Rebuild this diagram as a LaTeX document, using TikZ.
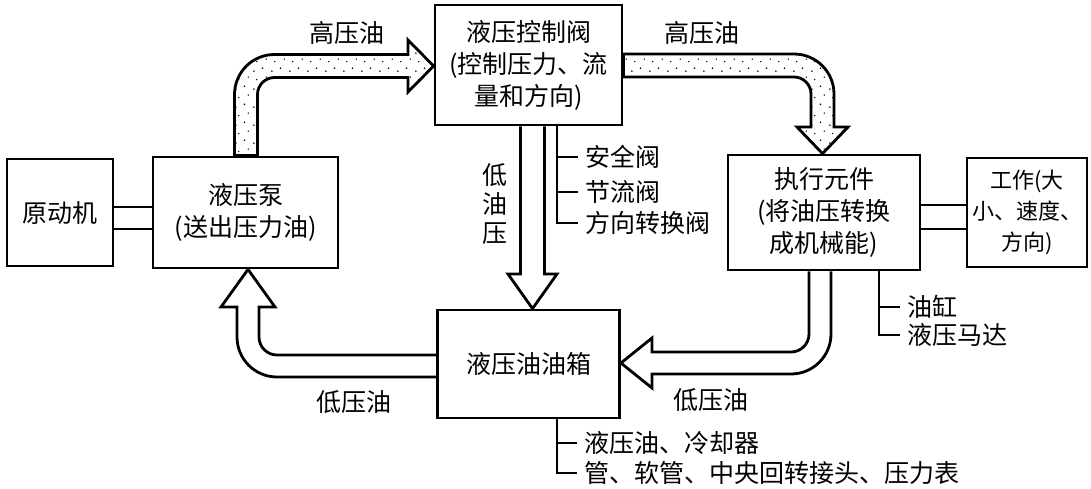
\documentclass[tikz,border=0pt]{standalone}
\usepackage{fontspec}
\setmainfont{Noto Sans CJK SC}
\usepackage{tikz}
\usetikzlibrary{calc,positioning,patterns.meta}

\tikzdeclarepattern{
  name=stipple,
  type=uncolored,
  bounding box={(0pt,0pt) and (9pt,9pt)},
  tile size={(9pt,9pt)},
  code={
    \fill (1pt,1.5pt) circle (0.45pt);
    \fill (5.5pt,3pt) circle (0.45pt);
    \fill (2.5pt,6.5pt) circle (0.4pt);
    \fill (7.5pt,7.8pt) circle (0.4pt);
  }
}

\begin{document}
\begin{tikzpicture}[x=0.5pt, y=-0.5pt, line width=1.4pt,
    font=\fontsize{12.5}{16}\selectfont,
    box/.style={rectangle, draw, align=center, inner sep=0pt},
    pipe/.style={draw, line join=miter},
    hpipe/.style={pipe, pattern=stipple},
    note/.style={anchor=west, inner sep=3pt}]
    \useasboundingbox (0,0) rectangle (1091,488);

    \node (pump) [box, minimum width=92.5pt, minimum height=55.5pt] at (245.5,212.5) {液压泵\\(送出压力油)};
    \node (mover) [box, minimum width=53pt, minimum height=53.5pt, left of=pump, node distance=92.75pt] {原动机};
    \node (valve) [box, minimum width=93.5pt, minimum height=60pt] at (528.5,65) {液压控制阀\\(控制压力、流\\量和方向)};
    \node (tank) [box, minimum width=91pt, minimum height=54pt, below of=valve, node distance=149.5pt] {液压油油箱};
    \node (actuator) [box, minimum width=96pt, minimum height=57.5pt] at (824,212.5) {执行元件\\(将油压转换\\成机械能)};
    \node (work) [box, minimum width=60pt, minimum height=54.5pt, right of=actuator, node distance=101.5pt,
        font=\fontsize{11}{15.5}\selectfont] {工作(大\\小、速度、\\方向)};

    % shafts
    \draw (mover.east |- 0,207) -- (pump.west |- 0,207);
    \draw (mover.east |- 0,229) -- (pump.west |- 0,229);
    \draw (actuator.east |- 0,205) -- (work.west |- 0,205);
    \draw (actuator.east |- 0,229) -- (work.west |- 0,229);

    % high pressure oil
    \draw[hpipe] (pump.north -| 234.5,0) -- (234.5,94.5) .. controls (234.5,72.4) and (252.4,54.5) .. (274.5,54.5)
        -- (408,54.5) -- (408,40) -- (valve.west |- 0,66) -- (408,92) -- (408,77.5) -- (274.5,77.5)
        .. controls (265.1,77.5) and (257.5,85.1) .. (257.5,94.5) -- (pump.north -| 257.5,0) -- cycle;
    \draw[hpipe] (valve.east |- 0,54) -- (794,54) .. controls (816.1,54) and (834,71.9) .. (834,94)
        -- (834,127) -- (848,127) -- (actuator.north -| 822.5,0) -- (797,127) -- (811,127) -- (811,94)
        .. controls (811,84.6) and (803.4,77) .. (794,77) -- (valve.east |- 0,77) -- cycle;

    % low pressure oil
    \draw[pipe] (valve.south -| 520.5,0) -- (520.5,274) -- (508,274) -- (tank.north -| 532.5,0)
        -- (557,274) -- (544.5,274) -- (valve.south -| 544.5,0);
    \draw[pipe] (actuator.south -| 809,0) -- (809,334) .. controls (809,343.9) and (800.9,352) .. (791,352)
        -- (652,352) -- (652,338) -- (tank.east |- 0,363) -- (652,388) -- (652,374) -- (791,374)
        .. controls (813.1,374) and (831,356.1) .. (831,334) -- (actuator.south -| 831,0);
    \draw[pipe] (tank.west |- 0,355) -- (277,355) .. controls (267.1,355) and (259,346.9) .. (259,337)
        -- (259,307) -- (275,307) -- (pump.south -| 248,0) -- (221,307) -- (237,307) -- (237,337)
        .. controls (237,359.1) and (254.9,377) .. (277,377) -- (tank.west |- 0,377);

    \node (hp1) at (347,33) {高压油};
    \node (hp2) at (702,33) {高压油};
    \node (lp1) at (354,402) {低压油};
    \node (lp2) at (711,400) {低压油};
    \node (lop) [align=center, font=\fontsize{12.5}{14.5}\selectfont] at (495,204) {低\\油\\压};

    % parts
    \node (safe) [note] at (578,157) {安全阀};
    \node (throttle) [note] at (578,192) {节流阀};
    \node (dirv) [note] at (578,223) {方向转换阀};
    \draw (valve.south -| 557,0) |- (dirv.west);
    \draw (safe.west -| 557,0) -- (safe.west);
    \draw (throttle.west -| 557,0) -- (throttle.west);

    \node (cyl) [note] at (900,307) {油缸};
    \node (motor) [note] at (900,335) {液压马达};
    \draw (actuator.south -| 879,0) |- (motor.west);
    \draw (cyl.west -| 879,0) -- (cyl.west);

    \node (oil) [note] at (577,443) {液压油、冷却器};
    \node (pipes) [note] at (577,473) {管、软管、中央回转接头、压力表};
    \draw (tank.south -| 557,0) |- (pipes.west);
    \draw (oil.west -| 557,0) -- (oil.west);
\end{tikzpicture}
\end{document}
